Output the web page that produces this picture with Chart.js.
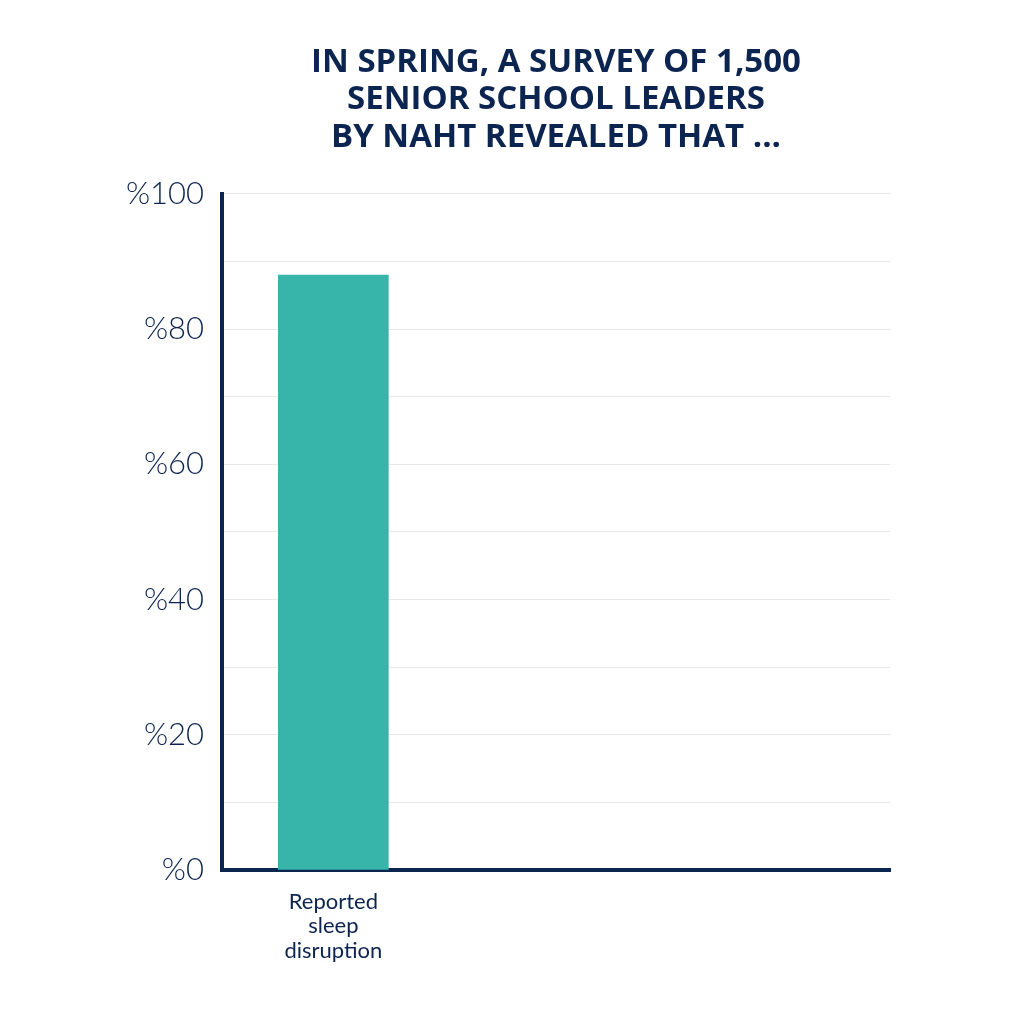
<!DOCTYPE html>
<html>
<head>
<meta charset="utf-8">
<script src="https://cdn.jsdelivr.net/npm/chart.js@4/dist/chart.umd.min.js"></script>
<style>
  html, body { margin: 0; padding: 0; background: #ffffff; }
  #wrap { width: 1017px; height: 1017px; }
</style>
</head>
<body>
<div id="wrap"><canvas id="chart"></canvas></div>
<script>
const titleLines = ["IN SPRING, A SURVEY OF 1,500", "SENIOR SCHOOL LEADERS", "BY NAHT REVEALED THAT ..."];
const categories = [["Reported", "sleep", "disruption"], "", ""];
const values = [88, null, null];
const yTicks = [0, 20, 40, 60, 80, 100];

const navy = "#0c2450";

new Chart(document.getElementById("chart").getContext("2d"), {
    type: "bar",
    data: {
        labels: categories,
        datasets: [{
            data: values,
            backgroundColor: "#38b5aa",
            barThickness: 110
        }]
    },
    options: {
        responsive: true,
        maintainAspectRatio: false,
        animation: false,
        layout: {
            padding: { top: 44, left: 110, right: 127, bottom: 47 }
        },
        plugins: {
            legend: { display: false },
            tooltip: { enabled: false },
            title: {
                display: true,
                fullSize: false,
                text: titleLines,
                color: navy,
                font: { family: "'Open Sans'", size: 33, weight: "bold", lineHeight: 1.13 },
                padding: { top: 0, bottom: 38 }
            }
        },
        scales: {
            x: {
                grid: { display: false },
                border: { color: navy, width: 4 },
                ticks: {
                    color: navy,
                    font: { family: "Lato", size: 22, lineHeight: 1.1 },
                    padding: 12,
                    maxRotation: 0
                },
                afterFit: (scale) => { scale.height = 100; }
            },
            y: {
                min: 0,
                max: 100,
                border: { color: navy, width: 4 },
                grid: { color: "#e8e8e8", lineWidth: 1, drawTicks: false },
                ticks: {
                    stepSize: 10,
                    color: navy,
                    padding: 18,
                    font: { family: "Lato", size: 31, weight: 300 },
                    callback: (v) => yTicks.includes(v) ? "%" + v : ""
                },
                afterFit: (scale) => { scale.width = 112; }
            }
        }
    }
});
</script>
</body>
</html>
